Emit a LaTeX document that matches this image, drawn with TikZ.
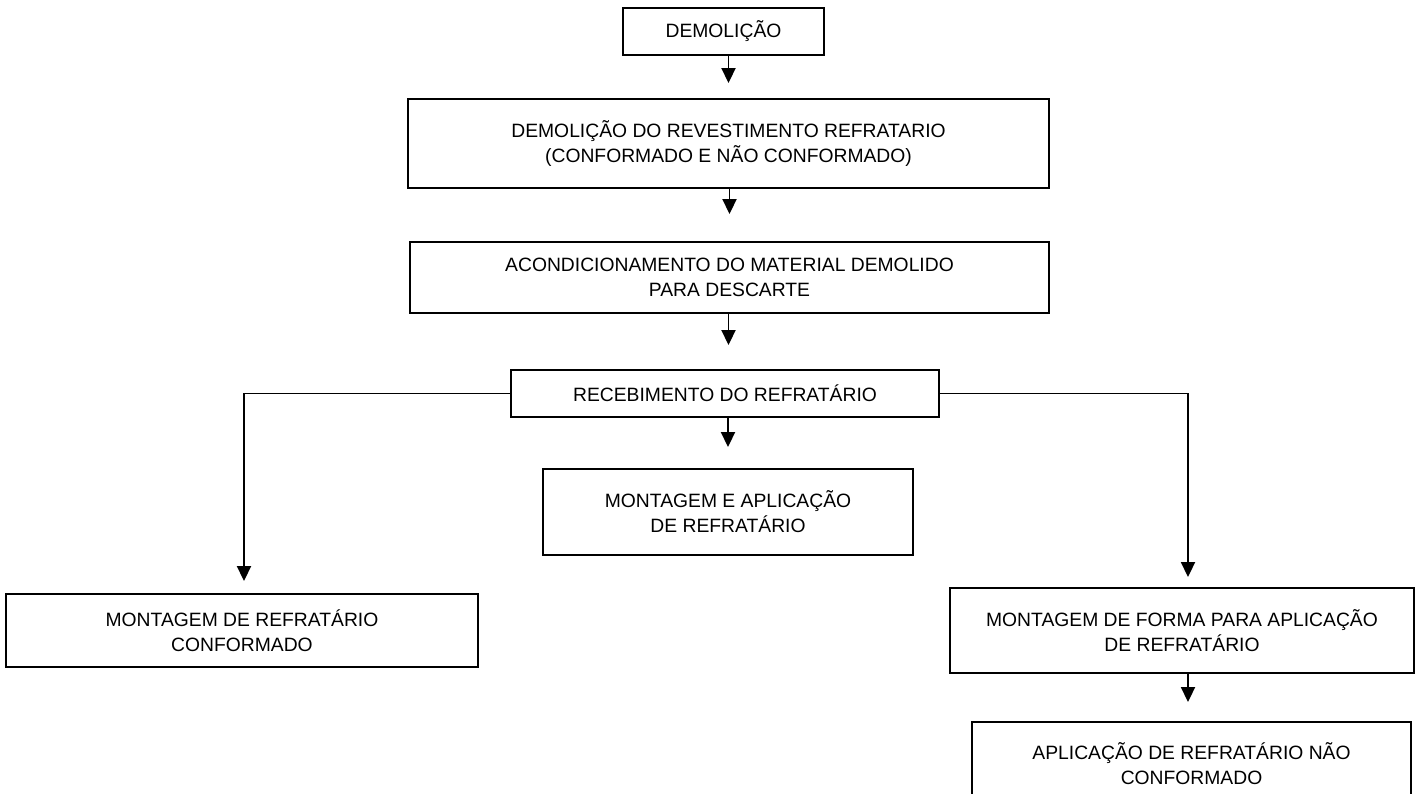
\documentclass[tikz,border=0pt]{standalone}
\usepackage{fontspec}
\setmainfont{Liberation Sans}
\usepackage{tikz}
\usetikzlibrary{arrows.meta}

\begin{document}
\begin{tikzpicture}[x=1pt, y=-1pt,
    etapa/.style={draw, line width=1.9pt, align=center, inner sep=0pt,
        font=\fontsize{19.3}{25}\selectfont},
    fluxo/.style={line width=1.9pt, -{Triangle[width=14pt,length=15pt]}}]
    \useasboundingbox (0, 0) rectangle (1424, 794);
    \clip (0, 0) rectangle (1424, 794);

    \node[etapa, minimum width=201pt, minimum height=47pt] at (723.5, 31.5) (dem) {DEMOLIÇÃO};
    \node[etapa, minimum width=641pt, minimum height=89pt] at (728.5, 143.5) (revest) {DEMOLIÇÃO DO REVESTIMENTO REFRATARIO\\(CONFORMADO E NÃO CONFORMADO)};
    \node[etapa, minimum width=639pt, minimum height=71pt] at (729.5, 277.5) (acond) {ACONDICIONAMENTO DO MATERIAL DEMOLIDO\\PARA DESCARTE};
    \node[etapa, minimum width=428pt, minimum height=47pt] at (725, 393.5) (receb) {RECEBIMENTO DO REFRATÁRIO};
    \node[etapa, minimum width=370pt, minimum height=86pt] at (728, 512) (montapl) {MONTAGEM E APLICAÇÃO\\DE REFRATÁRIO};
    \node[etapa, minimum width=472pt, minimum height=73pt] at (242, 630.5) (montconf) {MONTAGEM DE REFRATÁRIO\\CONFORMADO};
    \node[etapa, minimum width=464pt, minimum height=85pt] at (1182, 630.5) (montforma) {MONTAGEM DE FORMA PARA APLICAÇÃO\\DE REFRATÁRIO};
    \node[etapa, minimum width=439pt, minimum height=83pt] at (1191.5, 763.5) (aplnc) {APLICAÇÃO DE REFRATÁRIO NÃO\\CONFORMADO};

    \draw[fluxo, shorten >=15pt] (dem.south -| revest.north) -- (revest.north);
    \draw[fluxo, shorten >=27pt] (revest.south -| acond.north) -- (acond.north);
    \draw[fluxo, shorten >=24pt] ([xshift=-1pt]acond.south) -- ([xshift=-1pt]acond.south |- receb.north);
    \draw[fluxo, shorten >=21pt] (receb.south -| montapl.north) -- (montapl.north);

    \draw[fluxo, shorten >=12pt] (receb.west) -| ([xshift=2pt]montconf.north);
    \draw[fluxo, shorten >=10pt] (receb.east) -| ([xshift=6pt]montforma.north);
    \draw[fluxo, shorten >=19pt] ([xshift=6pt]montforma.south) -- ([xshift=6pt]montforma.south |- aplnc.north);
\end{tikzpicture}
\end{document}
